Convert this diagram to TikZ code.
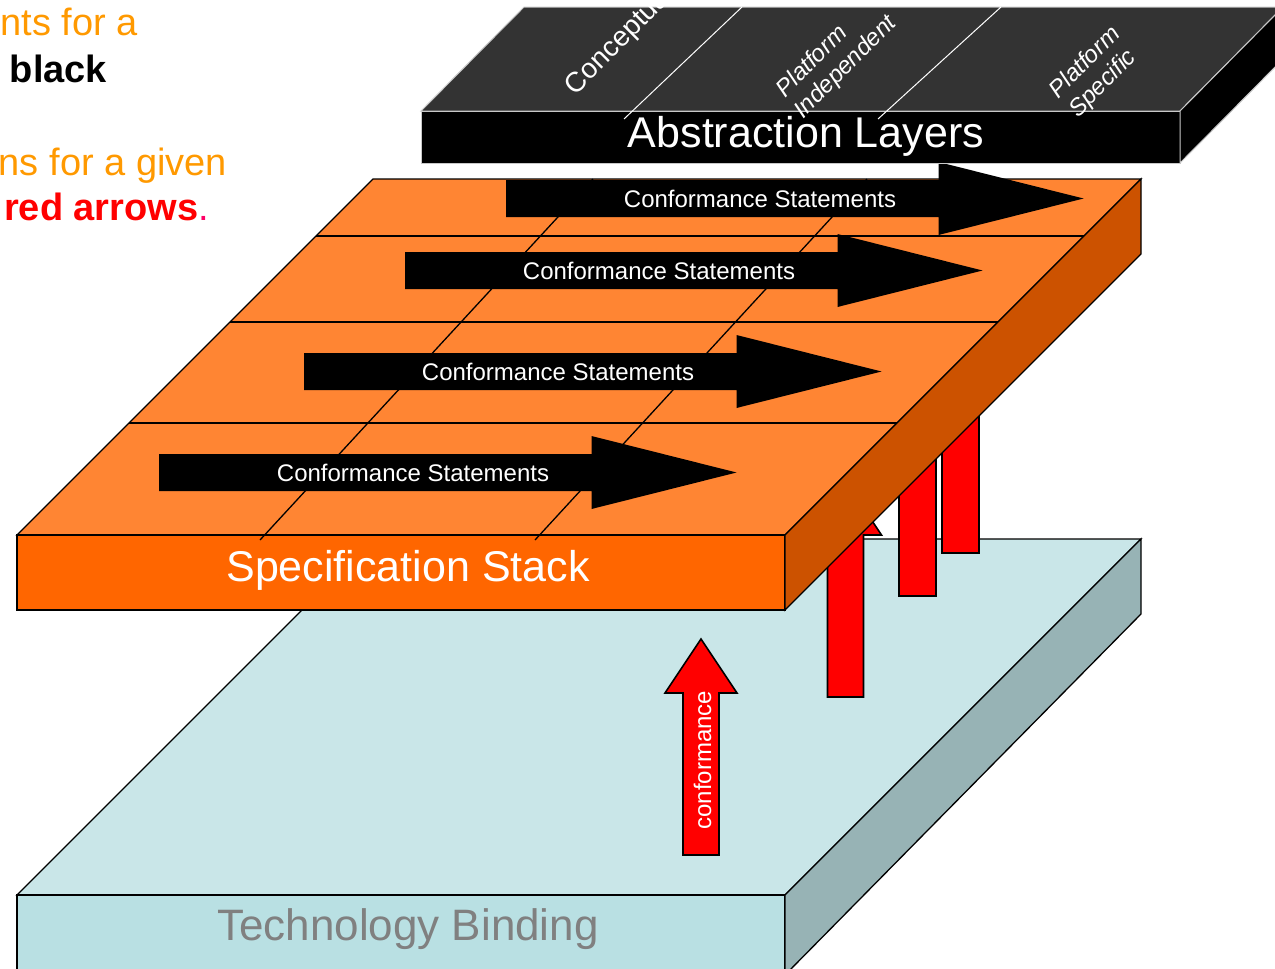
\documentclass[tikz,border=0pt]{standalone}
\usepackage{fontspec}
\setmainfont{Liberation Sans}
\definecolor{orTop}{HTML}{FF8533}
\definecolor{orFront}{HTML}{FF6600}
\definecolor{orSide}{HTML}{CC5200}
\definecolor{blTop}{HTML}{C9E6E8}
\definecolor{blFront}{HTML}{B9E0E3}
\definecolor{blSide}{HTML}{97B3B5}
\definecolor{absTop}{HTML}{333333}
\definecolor{absLine}{HTML}{C8C8C8}
\definecolor{txtOrange}{HTML}{FF9900}
\definecolor{dotPink}{HTML}{FF0066}
\definecolor{tbGray}{HTML}{808080}
\begin{document}
\begin{tikzpicture}[x=1pt,y=-1pt,
  slab/.style={draw=black,line width=1.3pt,line join=miter},
  absface/.style={draw=absLine,line width=1pt,line join=miter},
  gridline/.style={draw=black,line width=1.3pt},
  redarrow/.style={fill=red,draw=black,line width=1.6pt,line join=miter},
  txt/.style={inner sep=0pt,outer sep=0pt},
  bigtxt/.style={txt,anchor=base,font=\fontsize{43}{50}\selectfont},
  ctext/.style={txt,anchor=base,text=white,font=\fontsize{24}{29}\selectfont},
  ltext/.style={txt,anchor=base west,rotate=45,text=white,font=\fontsize{24}{29}\selectfont\itshape},
  lefttxt/.style={txt,anchor=base east,font=\fontsize{38}{46}\selectfont},
  confarrow/.pic={\fill[black] (0,-18.5) -- (432.5,-18.5) -- (432.5,-36.5) -- (577.5,0)
        -- (432.5,36.5) -- (432.5,18.5) -- (0,18.5) -- cycle;}
]
\useasboundingbox (0,0) rectangle (1275,969);
\clip (0,0) rectangle (1275,969);

% ---------- left caption text ----------
\node[lefttxt,text=txtOrange] (l1) at (138,35) {nts for a};
\node[lefttxt,text=black] (l2) at (107,82) {\bfseries black};
\node[lefttxt,text=txtOrange] (l3) at (227,175) {ns for a given};
\node[lefttxt] (l4) at (209,220) {\textcolor{red}{\bfseries red arrows}\textcolor{dotPink}{.}};

% ---------- Technology Binding slab ----------
\path[slab,fill=blTop] (17,895) -- (373,539) -- (1141,539) -- (785,895) -- cycle;
\path[slab,fill=blFront] (17,895) rectangle (785,975);
\path[slab,fill=blSide] (785,895) -- (1141,539) -- (1141,614) -- (785,975) -- cycle;
\node[bigtxt,text=tbGray,font=\fontsize{44}{50}\selectfont] (tb) at (408,940) {Technology Binding};

% ---------- red conformance arrows ----------
\path[redarrow] (899,596) -- (899,424) -- (881,424) -- (917.5,370) -- (954,424) -- (936,424) -- (936,596) -- cycle;
\path[redarrow] (942,553) -- (942,381) -- (924,381) -- (960.5,327) -- (997,381) -- (979,381) -- (979,553) -- cycle;
\path[redarrow] (827.5,697) -- (827.5,535) -- (809.5,535) -- (845.5,481) -- (881.5,535) -- (863.5,535) -- (863.5,697) -- cycle;
\path[redarrow] (683,855) -- (683,693) -- (665,693) -- (701,639) -- (737,693) -- (719,693) -- (719,855) -- cycle;
\node[txt,anchor=base,rotate=90,text=white,font=\fontsize{24}{29}\selectfont] (conf) at (711,760) {conformance};

% ---------- Specification Stack slab ----------
\path[slab,fill=orTop] (17,535) -- (373,179) -- (1141,179) -- (785,535) -- cycle;
\path[slab,fill=orFront] (17,535) rectangle (785,610);
\path[slab,fill=orSide] (785,535) -- (1141,179) -- (1141,254) -- (785,610) -- cycle;
\draw[gridline] (316,236) -- (1084,236);
\draw[gridline] (230,322) -- (998,322);
\draw[gridline] (129,423) -- (897,423);
\draw[gridline] (593,179) -- (260,540);
\draw[gridline] (867,179) -- (535,540);
\node[bigtxt,text=white] (ss) at (408,581) {Specification Stack};

% ---------- Conformance Statements arrows ----------
\pic at (506,198.5) {confarrow};
\pic at (405,270.5) {confarrow};
\pic at (304,371.5) {confarrow};
\pic at (159,472.5) {confarrow};
\node[ctext] (cs1) at (760,207) {Conformance Statements};
\node[ctext] (cs2) at (659,279) {Conformance Statements};
\node[ctext] (cs3) at (558,380) {Conformance Statements};
\node[ctext] (cs4) at (413,481) {Conformance Statements};

% ---------- Abstraction Layers slab ----------
\path[absface,fill=absTop] (421,111) -- (524,7) -- (1283,7) -- (1180,111) -- cycle;
\path[absface,fill=black] (421,111) rectangle (1180,163);
\path[absface,fill=black] (1180,111) -- (1283,7) -- (1283,59) -- (1180,163) -- cycle;
\node[bigtxt,text=white] (al) at (806,147) {Abstraction Layers};
\draw[white,line width=1pt] (742,7) -- (624,119);
\draw[white,line width=1pt] (1001,7) -- (878,119);
\node[txt,anchor=base west,rotate=45,text=white,font=\fontsize{28}{34}\selectfont] (cp) at (575,96) {Conceptual};
\node[ltext] (pi1) at (785,98) {Platform};
\node[ltext] (pi2) at (803,119) {Independent};
\node[ltext] (ps1) at (1058,99) {Platform};
\node[ltext] (ps2) at (1078,118) {Specific};
\end{tikzpicture}
\end{document}
